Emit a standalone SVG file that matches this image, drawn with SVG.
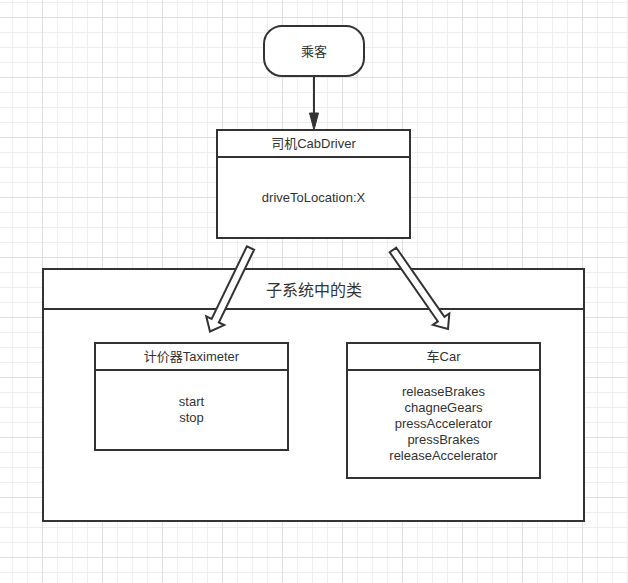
<svg xmlns="http://www.w3.org/2000/svg" width="628" height="583" viewBox="0 0 628 583">
  <style>
    .box { fill: #ffffff; stroke: #333333; stroke-width: 2; }
    .div { stroke: #333333; stroke-width: 2; fill: none; }
    .t { font-family: "Liberation Sans", "Noto Sans CJK SC", sans-serif; font-size: 13px; fill: #333333; text-anchor: middle; }
    .big { font-size: 16px; }
    .conn { stroke: #333333; stroke-width: 2; fill: none; }
    .hollow { fill: #ffffff; stroke: #333333; stroke-width: 2; stroke-linejoin: miter; }
  </style>
  <defs>
    <pattern id="minor" patternUnits="userSpaceOnUse" x="12" y="2" width="15" height="15">
      <path d="M0.5 0 V15 M0 0.5 H15" stroke="#eeeeee" stroke-width="1" fill="none"/>
    </pattern>
    <pattern id="major" patternUnits="userSpaceOnUse" x="42" y="17" width="60" height="60">
      <path d="M0.5 0 V60 M0 0.5 H60" stroke="#e0e0e0" stroke-width="1" fill="none"/>
    </pattern>
  </defs>
  <rect x="0" y="0" width="628" height="583" fill="#ffffff"/>
  <rect x="0" y="0" width="628" height="583" fill="url(#minor)"/>
  <rect x="0" y="0" width="628" height="583" fill="url(#major)"/>

  <g id="subsystem">
    <rect class="box" x="43" y="269" width="541" height="252"/>
    <line class="div" x1="43" y1="309" x2="584" y2="309"/>
    <text class="t big" x="314" y="296">子系统中的类</text>
  </g>

  <g id="passenger">
    <rect class="box" x="264" y="26" width="100" height="50" rx="18" ry="18"/>
    <text class="t" x="314" y="56">乘客</text>
  </g>

  <g id="cabdriver">
    <rect class="box" x="217" y="130" width="193" height="108"/>
    <line class="div" x1="217" y1="157" x2="410" y2="157"/>
    <text class="t" x="313.5" y="148">司机CabDriver</text>
    <text class="t" x="313.5" y="201.5">driveToLocation:X</text>
  </g>

  <g id="taximeter">
    <rect class="box" x="95" y="343" width="193" height="107"/>
    <line class="div" x1="95" y1="370" x2="288" y2="370"/>
    <text class="t" x="191.5" y="360.5">计价器Taximeter</text>
    <text class="t" x="191.5" y="406">start</text>
    <text class="t" x="191.5" y="422">stop</text>
  </g>

  <g id="car">
    <rect class="box" x="347" y="343" width="193" height="135"/>
    <line class="div" x1="347" y1="370" x2="540" y2="370"/>
    <text class="t" x="443.5" y="360.5">车Car</text>
    <text class="t" x="443.5" y="396">releaseBrakes</text>
    <text class="t" x="443.5" y="412">chagneGears</text>
    <text class="t" x="443.5" y="428">pressAccelerator</text>
    <text class="t" x="443.5" y="444">pressBrakes</text>
    <text class="t" x="443.5" y="460">releaseAccelerator</text>
  </g>

  <g id="connectors">
    <line class="conn" x1="314" y1="76" x2="314" y2="114"/>
    <polygon points="314,130 309.5,113 318.5,113" fill="#333333" stroke="#333333" stroke-width="1"/>
    <polygon class="hollow" points="254.10,249.75 218.84,322.45 224.24,325.06 210,331.5 206.24,316.34 211.64,318.95 246.90,246.25"/>
    <polygon class="hollow" points="396.28,247.71 444.42,316.86 449.35,313.44 448,329 432.93,324.86 437.86,321.44 389.72,252.29"/>
  </g>
</svg>
